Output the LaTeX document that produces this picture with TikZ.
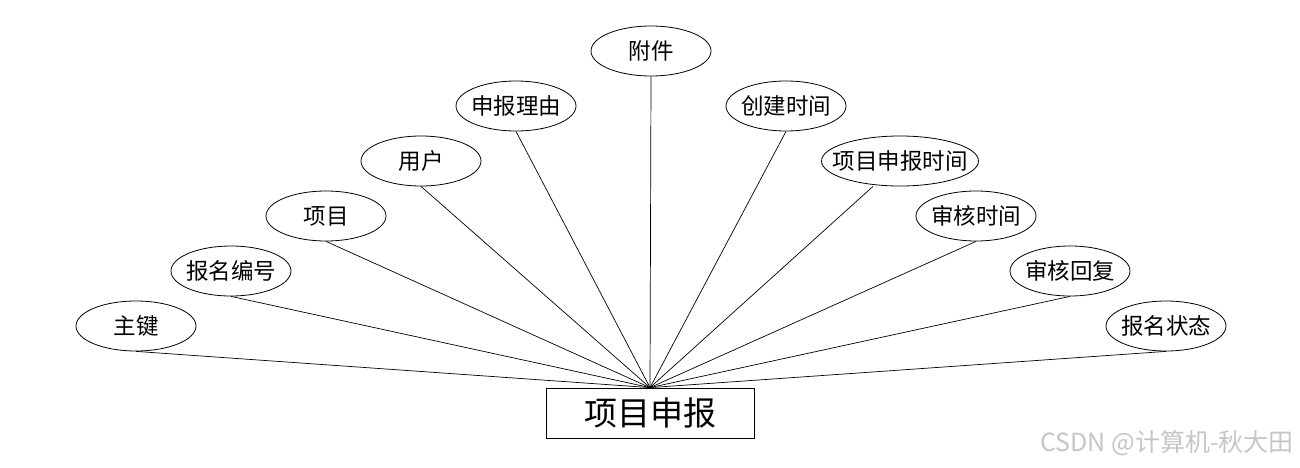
\documentclass[tikz,border=0pt]{standalone}
\usepackage{fontspec}
\setmainfont{Noto Sans CJK SC}
\usetikzlibrary{shapes.geometric}

\begin{document}
\begin{tikzpicture}[x=1pt,y=-1pt,
    attr/.style={ellipse,draw,line width=0.8pt,inner xsep=-3pt,inner ysep=0pt,minimum width=120pt,minimum height=50pt,font=\fontsize{22.5}{27}\selectfont},
    entity/.style={rectangle,draw,line width=0.8pt,minimum width=208pt,minimum height=50pt,font=\fontsize{33}{39}\selectfont},
    link/.style={line width=0.7pt}]
    \useasboundingbox (0,0) rectangle (1300,468);

    \node[entity] (xmsb) at (650,413) {项目申报};

    \node[attr] (zj) at (136,326) {主键};
    \node[attr] (bmbh) at (231,271) {报名编号};
    \node[attr] (xm) at (326,216) {项目};
    \node[attr] (yh) at (421,161) {用户};
    \node[attr] (sbly) at (516,106) {申报理由};
    \node[attr] (fj) at (651,51) {附件};
    \node[attr] (cjsj) at (786,106) {创建时间};
    \node[attr, minimum width=157pt, inner xsep=-12pt] (xmsbsj) at (900,161) {项目申报时间};
    \node[attr] (shsj) at (976,216) {审核时间};
    \node[attr] (shhf) at (1070,271) {审核回复};
    \node[attr] (bmzt) at (1166,326) {报名状态};

    \node[text=gray!45, font=\fontsize{25}{29}\selectfont] (sy) at (1167,443) {CSDN @计算机-秋大田};

    \path[link] (zj.south) edge (xmsb.north);
    \path[link] (bmbh.south) edge (xmsb.north);
    \path[link] (xm.south) edge (xmsb.north);
    \path[link] (yh.south) edge (xmsb.north);
    \path[link] (sbly.south) edge (xmsb.north);
    \path[link] (fj.south) edge (xmsb.north);
    \path[link] (cjsj.south) edge (xmsb.north);
    \path[link] ([xshift=-27pt]xmsbsj.south) edge (xmsb.north);
    \path[link] (shsj.south) edge (xmsb.north);
    \path[link] (shhf.south) edge (xmsb.north);
    \path[link] (bmzt.south) edge (xmsb.north);
\end{tikzpicture}
\end{document}
